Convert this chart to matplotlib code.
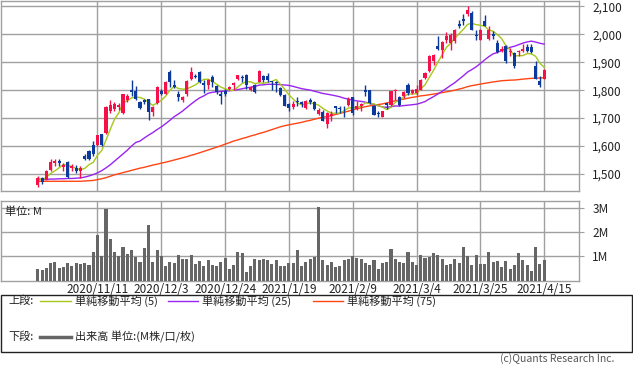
import matplotlib
matplotlib.use("Agg")
import matplotlib.pyplot as plt
from matplotlib.patches import Rectangle
from matplotlib.lines import Line2D
import numpy as np
import pandas as pd

plt.rcParams['font.family'] = ['Noto Sans CJK JP', 'DejaVu Sans']

# ---------------- data ----------------
start_date = "2020-10-21"
end_date = "2021-04-15"
holidays = ["2020-11-03", "2020-11-23", "2020-12-31", "2021-01-01",
            "2021-01-11", "2021-02-11", "2021-02-23"]
tick_dates = ["2020-11-11", "2020-12-03", "2020-12-24", "2021-01-19",
              "2021-02-09", "2021-03-04", "2021-03-25", "2021-04-15"]

opens = [1460, 1486, 1480, 1516, 1540, 1548, 1524, 1542, 1520, 1522,
         1510, 1566, 1582, 1603, 1603, 1642, 1648, 1726, 1732, 1740,
         1720, 1765, 1800, 1798, 1758, 1764, 1768, 1723, 1753, 1798,
         1787, 1865, 1820, 1786, 1766, 1786, 1840, 1852, 1866, 1825,
         1819, 1848, 1816, 1786, 1798, 1806, 1817, 1841, 1847, 1855,
         1800, 1819, 1831, 1850, 1850, 1832, 1830, 1807, 1784, 1751,
         1740, 1763, 1756, 1735, 1765, 1756, 1715, 1723, 1678, 1708,
         1742, 1738, 1734, 1747, 1774, 1733, 1742, 1799, 1800, 1745,
         1720, 1704, 1753, 1748, 1796, 1776, 1778, 1820, 1791, 1790,
         1802, 1844, 1867, 1903, 1959, 1945, 1981, 1969, 1975, 2038,
         2053, 2071, 2077, 1999, 1981, 2047, 1983, 2001, 1969, 1941,
         1959, 1935, 1933, 1935, 1941, 1953, 1953, 1885, 1834, 1841]
highs = [1492, 1489, 1513, 1552, 1555, 1555, 1540, 1545, 1536, 1534,
         1527, 1572, 1586, 1617, 1641, 1645, 1744, 1766, 1758, 1754,
         1788, 1786, 1836, 1815, 1762, 1770, 1770, 1743, 1814, 1806,
         1832, 1874, 1836, 1796, 1780, 1837, 1882, 1858, 1870, 1838,
         1840, 1856, 1820, 1796, 1806, 1816, 1828, 1856, 1855, 1858,
         1814, 1822, 1871, 1856, 1860, 1834, 1832, 1812, 1786, 1754,
         1762, 1775, 1762, 1765, 1772, 1760, 1735, 1728, 1722, 1725,
         1745, 1742, 1742, 1775, 1776, 1760, 1753, 1817, 1802, 1748,
         1726, 1726, 1755, 1798, 1805, 1778, 1798, 1826, 1806, 1820,
         1840, 1866, 1927, 1929, 1993, 1975, 2008, 2005, 2019, 2053,
         2071, 2103, 2083, 2017, 2019, 2068, 2031, 2011, 1978, 1959,
         1962, 1950, 1935, 1945, 1967, 1965, 1965, 1905, 1850, 1876]
lows = [1455, 1466, 1478, 1512, 1530, 1527, 1511, 1486, 1512, 1505,
        1486, 1550, 1550, 1566, 1600, 1600, 1642, 1720, 1725, 1728,
        1716, 1756, 1780, 1766, 1733, 1750, 1693, 1708, 1750, 1782,
        1785, 1810, 1808, 1760, 1756, 1780, 1836, 1844, 1826, 1790,
        1804, 1812, 1788, 1750, 1780, 1800, 1800, 1836, 1829, 1806,
        1796, 1790, 1829, 1830, 1830, 1799, 1795, 1778, 1742, 1724,
        1734, 1745, 1740, 1732, 1752, 1730, 1712, 1688, 1666, 1690,
        1720, 1720, 1703, 1743, 1711, 1730, 1726, 1778, 1752, 1710,
        1705, 1703, 1733, 1744, 1764, 1745, 1772, 1784, 1786, 1784,
        1800, 1840, 1864, 1890, 1943, 1915, 1970, 1945, 1970, 2023,
        2035, 2065, 2015, 1981, 1981, 2029, 1981, 1983, 1933, 1935,
        1899, 1923, 1880, 1923, 1938, 1935, 1932, 1840, 1813, 1840]
closes = [1486, 1470, 1510, 1543, 1548, 1541, 1531, 1488, 1528, 1510,
          1520, 1554, 1554, 1570, 1639, 1603, 1741, 1746, 1752, 1748,
          1786, 1780, 1795, 1770, 1738, 1758, 1722, 1741, 1810, 1788,
          1829, 1829, 1812, 1774, 1774, 1834, 1864, 1848, 1830, 1818,
          1836, 1830, 1792, 1780, 1786, 1812, 1826, 1853, 1843, 1817,
          1811, 1793, 1867, 1835, 1835, 1828, 1826, 1783, 1745, 1735,
          1751, 1757, 1750, 1760, 1759, 1733, 1730, 1691, 1717, 1716,
          1735, 1733, 1731, 1768, 1717, 1745, 1750, 1794, 1754, 1712,
          1714, 1724, 1748, 1796, 1802, 1748, 1793, 1790, 1800, 1805,
          1838, 1862, 1923, 1927, 1947, 1971, 1995, 1999, 2017, 2029,
          2047, 2086, 2017, 1995, 2017, 2031, 2017, 1995, 1935, 1947,
          1903, 1941, 1885, 1942, 1947, 1941, 1935, 1841, 1819, 1873]
volumes_m = [0.49, 0.42, 0.53, 0.71, 0.78, 0.50, 0.54, 0.71, 0.58, 0.71,
             0.68, 0.71, 0.63, 1.17, 1.88, 0.99, 2.92, 1.71, 1.17, 0.99,
             1.38, 1.08, 1.25, 0.96, 0.75, 1.33, 2.29, 0.75, 1.25, 0.99,
             0.58, 0.75, 0.71, 1.04, 0.88, 0.88, 1.04, 0.67, 0.79, 0.58,
             0.83, 0.63, 0.58, 0.75, 0.92, 0.46, 0.63, 1.17, 1.13, 0.33,
             0.58, 0.88, 0.83, 0.88, 0.83, 0.67, 0.83, 0.58, 0.58, 0.71,
             0.71, 1.25, 0.58, 0.75, 0.88, 0.96, 3.04, 0.83, 0.63, 0.75,
             0.54, 0.58, 0.83, 0.88, 1.00, 0.92, 0.88, 0.71, 0.63, 0.83,
             0.46, 0.71, 0.75, 1.29, 0.88, 0.75, 0.71, 1.17, 0.75, 0.63,
             1.04, 0.92, 0.96, 1.13, 1.04, 0.88, 0.63, 0.67, 0.88, 0.71,
             1.36, 1.00, 0.63, 1.04, 0.67, 0.67, 1.17, 0.75, 0.79, 0.54,
             0.79, 0.46, 0.63, 1.13, 0.83, 0.63, 0.38, 1.38, 0.67, 0.83]
# moving averages for days whose window reaches before the data
ma25_early = [1480, 1481, 1481, 1482, 1482, 1483, 1483, 1484, 1484, 1485,
              1486, 1489, 1493, 1498, 1504, 1512, 1522, 1533, 1546, 1559,
              1572, 1585, 1600, 1613]
ma75_early = [1474, 1474, 1474, 1474, 1474, 1474, 1474, 1474, 1474, 1474,
              1474, 1475, 1476, 1477, 1480, 1483, 1487, 1492, 1497, 1501,
              1505, 1509, 1513, 1517, 1521, 1524, 1528, 1532, 1535, 1539,
              1542, 1546, 1550, 1554, 1558, 1562, 1567, 1571, 1576, 1581,
              1586, 1591, 1596, 1601, 1607, 1612, 1618, 1622, 1627, 1631,
              1636, 1640, 1645, 1649, 1654, 1659, 1664, 1669, 1673, 1676,
              1679, 1682, 1685, 1689, 1692, 1696, 1700, 1703, 1706, 1709,
              1713, 1717, 1721, 1725]

price_ticks = [1500, 1600, 1700, 1800, 1900, 2000, 2100]
volume_ticks = [1, 2, 3]
volume_tick_labels = ["1M", "2M", "3M"]

legend_upper = ["単純移動平均 (5)", "単純移動平均 (25)", "単純移動平均 (75)"]
legend_lower = "出来高 単位:(M株/口/枚)"

# ---------------- derived ----------------
dates = pd.bdate_range(start_date, end_date)
dates = dates[~dates.isin(pd.to_datetime(holidays))]
n = len(closes)
x = np.arange(n)
cs = pd.Series(closes, dtype=float)
ma5 = cs.rolling(5, min_periods=1).mean().values
ma25 = cs.rolling(25).mean().values
ma25[:len(ma25_early)] = ma25_early
ma75 = cs.rolling(75).mean().values
ma75[:len(ma75_early)] = ma75_early

tick_pos = [int(np.where(dates == pd.Timestamp(d))[0][0]) for d in tick_dates]
tick_lbl = [f"{pd.Timestamp(d).year}/{pd.Timestamp(d).month}/{pd.Timestamp(d).day}" for d in tick_dates]

# ---------------- figure ----------------
W, H = 633, 372
fig = plt.figure(figsize=(W / 100, H / 100), dpi=100)
grid_c = '#a0a0a0'
up_c = '#f5104a'
dn_c = '#0c3a9c'
c5, c25, c75 = '#a6c81a', '#9a24f0', '#ff4514'

def fx(px):
    return px / W

def fy(py):
    return 1 - py / H

left, right = 0.5, 579
ax1 = fig.add_axes([fx(left), fy(190.5), fx(right - left), (190.5 - 0.5) / H])
ax2 = fig.add_axes([fx(left), fy(280.5), fx(right - left), (280.5 - 200.5) / H])

xl = (-8.8, 127.2)
for ax in (ax1, ax2):
    ax.set_xlim(*xl)
    for s in ax.spines.values():
        s.set_color(grid_c)
        s.set_linewidth(1.0)
    ax.set_facecolor('white')
    for p in tick_pos:
        ax.axvline(p, color=grid_c, lw=1.0, zorder=1)

# price panel
ax1.set_ylim(1441, 2121)
for t in price_ticks:
    ax1.axhline(t, color=grid_c, lw=1.0, zorder=1)
ax1.plot(x, ma75, color=c75, lw=1.0, zorder=2)
ax1.plot(x, ma25, color=c25, lw=1.0, zorder=2)
ax1.plot(x, ma5, color=c5, lw=1.0, zorder=2)

o = np.array(opens, float); c = np.array(closes, float)
h = np.array(highs, float); l = np.array(lows, float)
cols = np.where(c >= o, up_c, dn_c)
ax1.vlines(x, l, h, colors=cols, lw=1.0, zorder=3)
bot = np.minimum(o, c)
hgt = np.maximum(np.abs(c - o), 2.5)
ax1.bar(x, hgt, bottom=bot, width=0.72, color=cols, linewidth=0, zorder=4)

ax1.yaxis.tick_right()
ax1.set_yticks(price_ticks)
ax1.set_yticklabels([f"{t:,}" for t in price_ticks], fontsize=8.5, color='#222222')
ax1.tick_params(axis='y', length=3.5, color=grid_c, pad=6)
ax1.set_xticks([])

# volume panel
ax2.set_ylim(0, 3.29)
for t in volume_ticks:
    ax2.axhline(t, color=grid_c, lw=1.0, zorder=1)
ax2.bar(x, volumes_m, width=0.72, color='#666666', linewidth=0, zorder=3)
ax2.yaxis.tick_right()
ax2.set_yticks(volume_ticks)
ax2.set_yticklabels(volume_tick_labels, fontsize=8.5, color='#222222')
ax2.tick_params(axis='y', length=3.5, color=grid_c, pad=6)
ax2.set_xticks(tick_pos)
ax2.set_xticklabels(tick_lbl, fontsize=8.5, color='#222222')
ax2.tick_params(axis='x', length=0, pad=2)
ax2.text(0.008, 0.93, "単位: M", transform=ax2.transAxes, fontsize=8,
         va='top', ha='left', color='#222222', zorder=5)

# legend box
fig.patches.append(Rectangle((fx(0.5), fy(351.5)), fx(631.5), (351.5 - 294.5) / H,
                             transform=fig.transFigure, fill=False,
                             edgecolor='#222222', lw=1.0))
y1 = fy(301)
y2 = fy(337)
fig.text(fx(8), y1, "上段:", fontsize=8, va='center', ha='left', color='#222222')
segs = [(40, 71, 75, c5, legend_upper[0]),
        (168, 198, 202, c25, legend_upper[1]),
        (313, 343, 347, c75, legend_upper[2])]
for a, b, t, col, lab in segs:
    fig.add_artist(Line2D([fx(a), fx(b)], [y1, y1], color=col, lw=1.0,
                          transform=fig.transFigure))
    fig.text(fx(t), y1, lab, fontsize=8, va='center', ha='left', color='#222222')
fig.text(fx(8), y2, "下段:", fontsize=8, va='center', ha='left', color='#222222')
fig.add_artist(Line2D([fx(40), fx(71)], [y2, y2], color='#666666', lw=2.5,
                      transform=fig.transFigure))
fig.text(fx(75), y2, legend_lower, fontsize=8, va='center', ha='left', color='#222222')

fig.text(fx(614), fy(359), "(c)Quants Research Inc.", fontsize=7.5,
         va='center', ha='right', color='#555555')

fig.savefig("out.png", dpi=100)
